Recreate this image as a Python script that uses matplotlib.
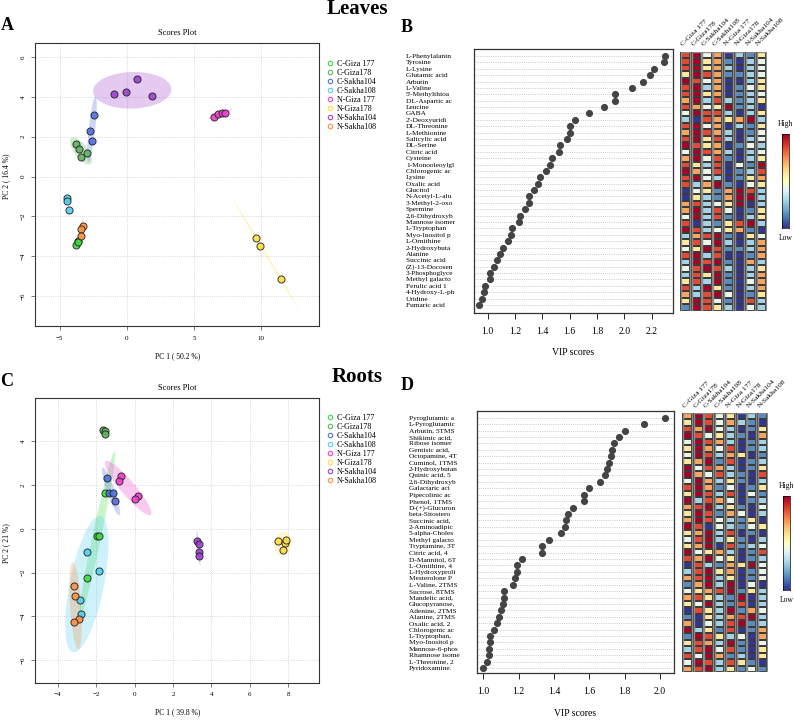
import numpy as np
import matplotlib
matplotlib.use("Agg")
import matplotlib.pyplot as plt
from matplotlib.patches import Ellipse, Rectangle
from matplotlib.lines import Line2D

plt.rcParams['font.family'] = ['Liberation Serif', 'DejaVu Serif']

W, H = 794, 721

groups = ["C-Giza 177", "C-Giza178", "C-Sakha104", "C-Sakha108",
          "N-Giza 177", "N-Giza178", "N-Sakha104", "N-Sakha108"]
grp_colors = ["#3fdc3f", "#5fb35f", "#4f6fdf", "#4fd0ef",
              "#ef3fcf", "#ffdf3f", "#9f3fcf", "#ff8f3f"]

# PCA scores, leaves (one inner list per group)
leaf_pc1 = [[-3.61, -3.76, -3.66], [-3.76, -3.54, -2.97, -3.37], [-2.43, -2.72, -2.62],
            [-4.46, -4.41, -4.31], [6.46, 6.78, 7.08, 7.33], [9.63, 9.93, 11.44],
            [-0.94, -0.05, 0.74, 1.86], [-3.29, -3.37, -3.37]]
leaf_pc2 = [[-3.24, -3.43, -3.30], [1.62, 1.39, 1.17, 0.97], [3.09, 2.29, 1.77],
            [-1.09, -1.24, -1.67], [2.99, 3.13, 3.19, 3.21], [-3.08, -3.51, -5.15],
            [4.15, 4.23, 4.88, 4.05], [-2.47, -2.61, -2.96]]

# PCA scores, roots
root_pc1 = [[-1.57, -1.95, -1.84, -2.50], [-1.63, -1.57, -1.53], [-1.46, -1.32, -1.11, -1.04],
            [-2.50, -1.84, -2.85, -2.78], [-0.70, -0.83, 0.17, 0.00], [7.48, 7.83, 7.90, 7.72],
            [3.27, 3.34, 3.34, 3.37], [-3.17, -3.10, -2.89, -3.17]]
root_pc2 = [[1.62, -0.31, -0.34, -2.26], [4.51, 4.48, 4.33], [2.34, 1.62, 1.62, 1.28],
            [-1.07, -1.91, -3.27, -3.88], [2.42, 2.17, 1.51, 1.36], [-0.58, -0.64, -0.50, -0.99],
            [-0.58, -0.69, -1.07, -1.25], [-2.61, -3.07, -4.14, -4.27]]

# VIP scores, leaves
leaf_names = ["L-Phenylalanin", "Tyrosine", "L-Lysine", "Glutamic acid", "Arbutin", "L-Valine",
              "5'-Methylthioa", "DL-Aspartic ac", "Leucine", "GABA", "2'-Deoxyuridi", "DL-Threonine",
              "L-Methionine", "Salicylic acid", "DL-Serine", "Citric acid", "Cysteine",
              "1-Monooleoylgl", "Chlorogenic ac", "Lysine", "Oxalic acid", "Glucitol",
              "N-Acetyl-L-alu", "3-Methyl-2-oxo", "Spermine", "2,6-Dihydroxyb", "Mannose isomer",
              "L-Tryptophan", "Myo-Inositol p", "L-Ornithine", "2-Hydroxybuta", "Alanine",
              "Succinic acid", "(Z)-13-Docosen", "3-Phosphoglyce", "Methyl galacto", "Ferulic acid 1",
              "4-Hydroxy-L-ph", "Uridine", "Fumaric acid"]
leaf_vip = [2.30, 2.29, 2.22, 2.19, 2.14, 2.06, 1.93, 1.93, 1.85, 1.74, 1.64, 1.60, 1.60, 1.58,
            1.53, 1.52, 1.47, 1.46, 1.43, 1.38, 1.37, 1.34, 1.30, 1.30, 1.27, 1.24, 1.23, 1.18,
            1.17, 1.15, 1.11, 1.09, 1.07, 1.05, 1.02, 1.02, 0.98, 0.97, 0.96, 0.94]

# VIP scores, roots
root_names = ["Pyroglutamic a", "L-Pyroglutamic", "Arbutin, 5TMS", "Shikimic acid,", "Ribose isomer",
              "Gentisic acid,", "Octopamine, 4T", "Cuminol, 1TMS", "2-Hydroxybutan", "Quinic acid, 5",
              "2,6-Dihydroxyb", "Galactaric aci", "Pipecolinic ac", "Phenol, 1TMS", "D-(+)-Glucuron",
              "beta-Sitostero", "Succinic acid,", "2-Aminoadipic", "5-alpha-Choles", "Methyl galacto",
              "Tryptamine, 3T", "Citric acid, 4", "D-Mannitol, 6T", "L-Ornithine, 4", "L-Hydroxyproli",
              "Mesterolone P", "L-Valine, 2TMS", "Sucrose, 8TMS", "Mandelic acid,", "Glucopyranose,",
              "Adenine, 2TMS", "Alanine, 2TMS", "Oxalic acid, 2", "Chlorogenic ac", "L-Tryptophan,",
              "Myo-Inositol p", "Mannose-6-phos", "Rhamnose isome", "L-Threonine, 2", "Pyridoxamine."]
root_vip = [2.03, 1.91, 1.80, 1.77, 1.74, 1.73, 1.72, 1.71, 1.70, 1.69, 1.66, 1.60, 1.57, 1.57,
            1.51, 1.48, 1.47, 1.46, 1.44, 1.37, 1.33, 1.33, 1.22, 1.19, 1.19, 1.18, 1.17, 1.12,
            1.12, 1.11, 1.10, 1.09, 1.08, 1.06, 1.04, 1.04, 1.03, 1.03, 1.02, 1.00]

# heatmap levels (N navy .. D dark red), one string per row, one letter per group
levels = "NBLPYORD"
leaf_heat = ["RDPONLBY", "RDYOBNLP", "RDYOLNLP", "YDROBBLP", "DRPONNLY", "RDLONBPY", "RDYONBLP",
             "ODLRLBLY", "ROPYDBLN", "PDRRLNLY", "LNROYODL", "RDPONLBY", "ODROLNBP", "RDYRLNLP",
             "DRYONBPL", "PDROLNLP", "ODPRBNLY", "RYLRNPBD", "DOPRNBLR", "RDPLNBYO", "RLODBNPY",
             "NPYBODRL", "NYLBODDL", "ORLPYDNL", "ODLRPNBY", "PDLRBNLY", "RNLBYRDL", "DRLPYOBN",
             "LORDBNYP", "YRPDLNLO", "PYDRBBLO", "RDLRNNBO", "LDRDBNOL", "PRDRLNLY", "LRYDBNLO",
             "YRLDBNPO", "RLDYBNLO", "OLRDPNBY", "YDRPBNRL", "BDRYLNPL"]
root_heat = ["ODRPYNLB", "YDRPOLBN", "RODPLNBY", "DRPYLBNO", "PDROLNBL", "YDOPRNBL", "PDRLOYNB",
             "YODBRNBL", "DPROLNBY", "DOPRLBNR", "PDOLYBNL", "RDOBPNBY", "YDRLRNPB", "DLROPNBL",
             "ORDLYBNP", "YDRBOPNL", "ODRPLBYN", "DRNPLBPY", "YODLRNBN", "PRDLYBNL", "YODNRBLP",
             "DPYOLNBR", "RODPYNBL", "NRLBOYDP", "LRDYONBP", "ORDLYNBP", "BODLDNPN", "PYORDBYL",
             "ORYLBDNL", "YPDLBRNL", "NRYLDBOP", "BNYLORDL", "ONPLRDBL", "DLYBRNBO", "BDRYLPNO",
             "YROLDBNP", "LRDPRBNY", "RPDOBLNY", "PDRLRYBN", "ORDLYBPB"]

cmap = plt.get_cmap("RdYlBu_r")


def box(l, t, r, b):
    return [l / W, 1 - b / H, (r - l) / W, (b - t) / H]


def ftext(x, y, s, **kw):
    fig.text(x / W, 1 - y / H, s, **kw)


def conf_ellipse(ax, xs, ys, color):
    xs = np.asarray(xs)
    ys = np.asarray(ys)
    cov = np.cov(xs, ys)
    vals, vecs = np.linalg.eigh(cov)
    vals = np.clip(vals, 1e-6, None)
    t = np.sqrt(5.991)
    ang = np.degrees(np.arctan2(vecs[1, 1], vecs[0, 1]))
    e = Ellipse((xs.mean(), ys.mean()), 2 * t * np.sqrt(vals[1]), 2 * t * np.sqrt(vals[0]),
                angle=ang, facecolor=color, edgecolor="none", alpha=0.28, zorder=1)
    ax.add_patch(e)


def scores_plot(rect, pc1, pc2, xlim, ylim, xticks, yticks, xlab, ylab, ylab_y, leg_top):
    ax = fig.add_axes(rect)
    for k in range(len(groups)):
        conf_ellipse(ax, pc1[k], pc2[k], grp_colors[k])
    for k in range(len(groups)):
        ax.scatter(pc1[k], pc2[k], s=26, facecolor=grp_colors[k], edgecolor="#222222",
                   linewidth=0.7, alpha=0.9, zorder=3)
    ax.set_xlim(xlim)
    ax.set_ylim(ylim)
    ax.set_xticks(xticks)
    ax.set_yticks(yticks)
    ax.grid(True, linestyle=":", color="#cccccc", linewidth=0.6)
    ax.set_axisbelow(True)
    ax.tick_params(labelsize=5, length=3, width=0.5, color="#444444", pad=4)
    for lab in ax.get_yticklabels():
        lab.set_rotation(90)
        lab.set_va("center")
    for sp in ax.spines.values():
        sp.set_color("#333333")
        sp.set_linewidth(0.8)
    ax.set_title("Scores Plot", fontsize=6, pad=6)
    ax.set_xlabel(xlab, fontsize=5.5, labelpad=8)
    ftext(6, ylab_y, ylab, fontsize=5.5, rotation=90, ha="center", va="center")
    handles = [Line2D([], [], marker="o", linestyle="none", markerfacecolor="none",
                      markeredgecolor=c, markersize=3.2, markeredgewidth=0.8) for c in grp_colors]
    fig.legend(handles, groups, loc="upper left", bbox_to_anchor=(323 / W, 1 - leg_top / H),
               frameon=False, fontsize=5.8, labelspacing=0.12, handletextpad=0.3,
               handlelength=1.0, borderaxespad=0)
    return ax


def vip_plot(rect, names, vip, xlim, ylim, xticks, pad):
    ax = fig.add_axes(rect)
    n = len(names)
    ax.hlines(np.arange(n), xlim[0], xlim[1], colors="#aaaaaa", linestyles=":", linewidth=0.5)
    ax.scatter(vip, np.arange(n), s=17, color="#444444", zorder=3)
    ax.set_xlim(xlim)
    ax.set_ylim(ylim)
    ax.set_xticks(xticks)
    ax.set_xticklabels(["%.1f" % v for v in xticks])
    ax.set_yticks(np.arange(n))
    ax.set_yticklabels(names, ha="left", fontsize=5.3)
    ax.tick_params(axis="y", length=0, pad=pad)
    ax.tick_params(axis="x", labelsize=7, length=4, width=0.6, pad=6)
    for sp in ax.spines.values():
        sp.set_color("#333333")
        sp.set_linewidth(0.9)
    ax.set_xlabel("VIP scores", fontsize=7, labelpad=9)
    return ax


def heat_plot(rect, rows, cbar_rect):
    ax = fig.add_axes(rect)
    vals = np.array([[levels.index(c) for c in r] for r in rows], dtype=float)
    nr, nc = vals.shape
    for j in range(nc):
        ax.pcolormesh(np.array([j + 0.08, j + 0.92]), np.arange(nr + 1), vals[:, j:j + 1],
                      cmap=cmap, vmin=0, vmax=7, edgecolors="#3a3a3a", linewidth=0.35)
        ax.add_patch(Rectangle((j + 0.08, 0), 0.84, nr, fill=False, edgecolor="#8a8a8a",
                               linewidth=1.0, zorder=4))
        ax.text(j + 0.3, -0.7, groups[j], rotation=45, ha="left", va="bottom",
                rotation_mode="anchor", fontsize=5.4, clip_on=False)
    ax.set_xlim(0, nc)
    ax.set_ylim(nr, 0)
    ax.axis("off")

    cax = fig.add_axes(cbar_rect)
    cax.imshow(np.linspace(1, 0, 100)[:, None], aspect="auto", cmap=cmap, extent=(0, 1, 0, 1))
    cax.set_xticks([])
    cax.set_yticks([])
    for sp in cax.spines.values():
        sp.set_linewidth(0.5)
    cax.text(0.5, 1.06, "High", transform=cax.transAxes, ha="center", va="bottom", fontsize=5.5)
    cax.text(0.5, -0.06, "Low", transform=cax.transAxes, ha="center", va="top", fontsize=5.5)


fig = plt.figure(figsize=(W / 100, H / 100), dpi=100)

# Leaves
scores_plot(box(35.3, 43, 319.3, 326), leaf_pc1, leaf_pc2, (-6.8, 14.3), (-7.5, 6.7),
            [-5, 0, 5, 10], [-6, -4, -2, 0, 2, 4, 6], "PC 1 ( 50.2 %)", "PC 2 ( 16.4 %)", 176, 57)
vip_plot(box(474, 49.3, 672.7, 312.7), leaf_names, leaf_vip, (0.90, 2.355), (40.2, -1.05),
         [1.0, 1.2, 1.4, 1.6, 1.8, 2.0, 2.2], 49)
heat_plot(box(680, 51.7, 766.5, 310.7), leaf_heat, box(782, 134, 788.5, 228))

# Roots
scores_plot(box(35.3, 398.3, 319.3, 682.7), root_pc1, root_pc2, (-5.18, 9.63), (-7.04, 5.97),
            [-4, -2, 0, 2, 4, 6, 8], [-6, -4, -2, 0, 2, 4], "PC 1 ( 39.8 %)", "PC 2 ( 21 %)", 543, 411)
vip_plot(box(476.7, 411, 674, 673.3), root_names, root_vip, (0.963, 2.079), (39.8, -1.04),
         [1.0, 1.2, 1.4, 1.6, 1.8, 2.0], 49)
heat_plot(box(682, 413, 768, 672), root_heat, box(783, 496, 790, 590))

# panel letters and titles
ftext(7, 26, "A", fontsize=13, fontweight="bold", ha="center", va="center")
ftext(407, 28, "B", fontsize=13, fontweight="bold", ha="center", va="center")
ftext(7, 382, "C", fontsize=13, fontweight="bold", ha="center", va="center")
ftext(407, 386, "D", fontsize=13, fontweight="bold", ha="center", va="center")
ftext(357, 9, "Leaves", fontsize=15, fontweight="bold", ha="center", va="center")
ftext(357, 377, "Roots", fontsize=15, fontweight="bold", ha="center", va="center")

fig.savefig("out.png", dpi=100)
